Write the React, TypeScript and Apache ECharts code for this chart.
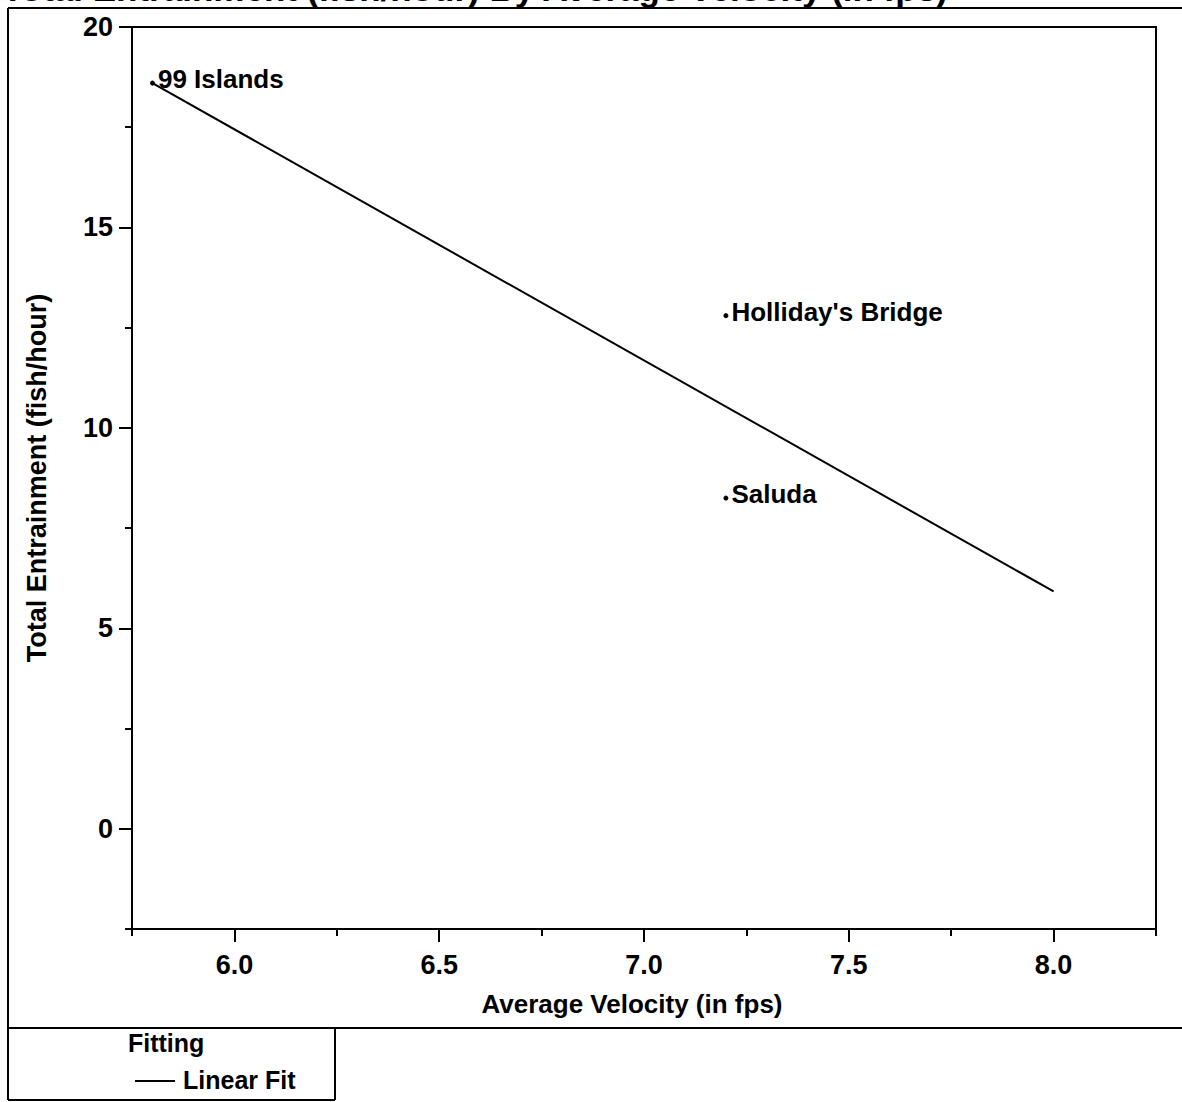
import React, { useEffect, useRef } from "react";
import * as echarts from "echarts";

const FONT = "'Liberation Sans', Arial, Helvetica, sans-serif";

const titleText = "Total Entrainment (fish/hour) By Average Velocity (in fps)";
const xName = "Average Velocity (in fps)";
const yName = "Total Entrainment (fish/hour)";
const legendTitle = "Fitting";
const legendItem = "Linear Fit";

const siteNames = ["99 Islands", "Holliday's Bridge", "Saluda"];
const siteVelocity = [5.8, 7.2, 7.2];
const siteEntrainment = [18.6, 12.8, 8.25];

const fitVelocity = [5.8, 8.0];
const fitEntrainment = [18.6, 5.92];

const xMajorTicks = [6.0, 6.5, 7.0, 7.5, 8.0];
const xMinorTicks = [5.75, 6.25, 6.75, 7.25, 7.75, 8.25];
const yMajorTicks = [0, 5, 10, 15, 20];
const yMinorTicks = [-2.5, 2.5, 7.5, 12.5, 17.5];

const X_MIN = 5.75;
const X_MAX = 8.25;
const Y_MIN = -2.5;
const Y_MAX = 20;

export default function App() {
  const ref = useRef<HTMLDivElement>(null);
  useEffect(() => {
    if (!ref.current) return;
    const chart = echarts.init(ref.current, null, { renderer: "svg" });
    const black = "#000";
    const lineStyle = { color: black, width: 2 };
    const grid = { left: 132, right: 26, top: 27, bottom: 173, show: true, borderColor: black, borderWidth: 2, backgroundColor: "transparent" };
    const scatterData = siteNames.map((n, i) => ({ name: n, value: [siteVelocity[i], siteEntrainment[i]] }));
    const fitData = fitVelocity.map((x, i) => [x, fitEntrainment[i]]);
    chart.setOption({
      animation: false,
      backgroundColor: "#fff",
      grid: [grid],
      xAxis: [
        {
          type: "value", gridIndex: 0, min: X_MIN, max: X_MAX,
          name: xName, nameLocation: "middle", nameGap: 62,
          nameTextStyle: { fontFamily: FONT, fontSize: 26, fontWeight: "bold", color: black, padding: [0, 24, 0, 0] },
          axisLine: { show: true, onZero: false, lineStyle },
          axisTick: { show: true, length: 13, lineStyle, customValues: xMajorTicks },
          axisLabel: { show: true, customValues: xMajorTicks, margin: 22, fontFamily: FONT, fontSize: 27, fontWeight: "bold", color: black, formatter: (v: number) => v.toFixed(1) },
          splitLine: { show: false },
        },
        {
          type: "value", gridIndex: 0, min: X_MIN, max: X_MAX, position: "bottom",
          axisLine: { show: false, onZero: false },
          axisTick: { show: true, length: 7, lineStyle, customValues: xMinorTicks },
          axisLabel: { show: false },
          splitLine: { show: false },
        },
      ],
      yAxis: [
        {
          type: "value", gridIndex: 0, min: Y_MIN, max: Y_MAX,
          name: yName, nameLocation: "middle", nameGap: 82,
          nameTextStyle: { fontFamily: FONT, fontSize: 27, fontWeight: "bold", color: black },
          axisLine: { show: true, onZero: false, lineStyle },
          axisTick: { show: true, length: 13, lineStyle, customValues: yMajorTicks },
          axisLabel: { show: true, customValues: yMajorTicks, margin: 19, fontFamily: FONT, fontSize: 27, fontWeight: "bold", color: black },
          splitLine: { show: false },
        },
        {
          type: "value", gridIndex: 0, min: Y_MIN, max: Y_MAX, position: "left",
          axisLine: { show: false, onZero: false },
          axisTick: { show: true, length: 7, lineStyle, customValues: yMinorTicks },
          axisLabel: { show: false },
          splitLine: { show: false },
        },
      ],
      series: [
        {
          name: legendItem, type: "line", xAxisIndex: 0, yAxisIndex: 0,
          data: fitData, symbol: "none", lineStyle: { color: black, width: 2 },
          itemStyle: { color: black },
        },
        {
          name: "Sites", type: "scatter", xAxisIndex: 0, yAxisIndex: 0,
          data: scatterData, symbolSize: 5, itemStyle: { color: black, opacity: 1 },
          label: {
            show: true, position: "right", distance: 3, offset: [0, -4],
            formatter: (p: any) => p.name,
            fontFamily: FONT, fontSize: 26, fontWeight: "bold", color: "#000", opacity: 1,
          },
        },
      ],
      graphic: [
        { type: "text", left: 2, top: -29, style: { text: titleText, fontFamily: FONT, fontSize: 35, fontWeight: "bold", fill: black } },
        { type: "line", shape: { x1: 8, y1: 8, x2: 1182, y2: 8 }, style: { stroke: black, lineWidth: 2 } },
        { type: "line", shape: { x1: 8, y1: 8, x2: 8, y2: 1100 }, style: { stroke: black, lineWidth: 2 } },
        { type: "line", shape: { x1: 8, y1: 1028, x2: 1182, y2: 1028 }, style: { stroke: black, lineWidth: 2 } },
        { type: "line", shape: { x1: 335, y1: 1028, x2: 335, y2: 1100 }, style: { stroke: black, lineWidth: 2 } },
        { type: "line", shape: { x1: 8, y1: 1100, x2: 335, y2: 1100 }, style: { stroke: black, lineWidth: 2 } },
        { type: "text", left: 128, top: 1030, style: { text: legendTitle, fontFamily: FONT, fontSize: 25, fontWeight: "bold", fill: black } },
        { type: "line", shape: { x1: 135, y1: 1081, x2: 175, y2: 1081 }, style: { stroke: black, lineWidth: 2 } },
        { type: "text", left: 183, top: 1067, style: { text: legendItem, fontFamily: FONT, fontSize: 25, fontWeight: "bold", fill: black } },
      ],
    });
    return () => chart.dispose();
  }, []);
  return <div ref={ref} style={{ position: "absolute", left: 0, top: 0, width: 1182, height: 1102 }} />;
}
